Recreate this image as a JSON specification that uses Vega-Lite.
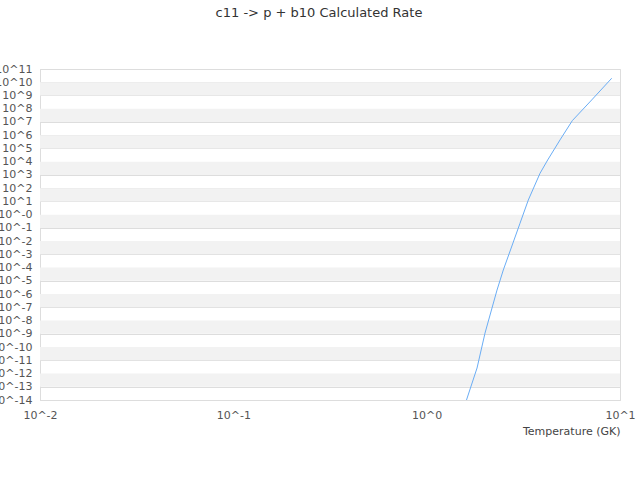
{
  "$schema": "https://vega.github.io/schema/vega-lite/v6.json",
  "autosize": "none",
  "padding": {"left": 40, "top": 69, "right": 20, "bottom": 80},
  "width": 580,
  "height": 331,
  "title": {
    "text": "c11 -> p + b10 Calculated Rate",
    "font": "DejaVu Sans",
    "fontSize": 13,
    "fontWeight": "normal",
    "color": "#333333",
    "anchor": "middle",
    "dx": -11,
    "offset": 43
  },
  "datasets": {
    "bands": [
      {"lo": 1e-13, "hi": 1e-12},
      {"lo": 1e-11, "hi": 1e-10},
      {"lo": 1e-9, "hi": 1e-8},
      {"lo": 1e-7, "hi": 1e-6},
      {"lo": 1e-5, "hi": 1e-4},
      {"lo": 1e-3, "hi": 1e-2},
      {"lo": 1e-1, "hi": 1},
      {"lo": 1e1, "hi": 1e2},
      {"lo": 1e3, "hi": 1e4},
      {"lo": 1e5, "hi": 1e6},
      {"lo": 1e7, "hi": 1e8},
      {"lo": 1e9, "hi": 1e10}
    ],
    "rate": [
      {"T": 1.487, "rate": 3.1e-16},
      {"T": 1.607, "rate": 1.0e-14},
      {"T": 1.822, "rate": 2.6e-12},
      {"T": 2.004, "rate": 1.15e-9},
      {"T": 2.311, "rate": 2.0e-6},
      {"T": 2.491, "rate": 6.6e-5},
      {"T": 3.039, "rate": 0.221},
      {"T": 3.356, "rate": 12.8},
      {"T": 3.857, "rate": 1318},
      {"T": 4.227, "rate": 1.35e4},
      {"T": 4.895, "rate": 4.4e5},
      {"T": 5.667, "rate": 1.26e7},
      {"T": 7.14, "rate": 4.6e8},
      {"T": 9.06, "rate": 2.0e10}
    ]
  },
  "layer": [
    {
      "data": {"name": "bands"},
      "mark": {"type": "rect", "color": "#f2f2f2"},
      "encoding": {
        "y": {"field": "lo", "type": "quantitative", "scale": {"type": "log", "domain": [1e-14, 1e11], "nice": false}},
        "y2": {"field": "hi"}
      }
    },
    {
      "data": {"name": "rate"},
      "mark": {"type": "line", "color": "#6aadf5", "strokeWidth": 1, "clip": true, "interpolate": "linear"},
      "encoding": {
        "x": {
          "field": "T",
          "type": "quantitative",
          "scale": {"type": "log", "domain": [0.01, 10], "nice": false},
          "axis": {
            "title": "Temperature (GK)",
            "titleAnchor": "end",
            "titleAlign": "right",
            "titlePadding": 5,
            "values": [0.01, 0.1, 1, 10],
            "labelExpr": "'10^' + round(log(datum.value) / LN10)",
            "grid": false,
            "labelFlush": false,
            "labelPadding": 9
          }
        },
        "y": {
          "field": "rate",
          "type": "quantitative",
          "scale": {"type": "log", "domain": [1e-14, 1e11], "nice": false},
          "axis": {
            "title": null,
            "values": [1e-14, 1e-13, 1e-12, 1e-11, 1e-10, 1e-9, 1e-8, 1e-7, 1e-6, 1e-5, 1e-4, 1e-3, 1e-2, 1e-1, 1, 1e1, 1e2, 1e3, 1e4, 1e5, 1e6, 1e7, 1e8, 1e9, 1e10, 1e11],
            "labelExpr": "datum.value == 1 ? '10^-0' : '10^' + round(log(datum.value) / LN10)",
            "grid": true,
            "labelPadding": 8,
            "labelOverlap": false,
            "labelFlush": false
          }
        }
      }
    }
  ],
  "config": {
    "view": {"stroke": "#dddddd"},
    "axis": {
      "zindex": 1,
      "ticks": false,
      "domainColor": "#dddddd",
      "gridColor": "#dddddd",
      "labelFont": "DejaVu Sans",
      "labelFontSize": 11,
      "labelColor": "#555555",
      "titleFont": "DejaVu Sans",
      "titleFontSize": 11,
      "titleFontWeight": "normal",
      "titleColor": "#444444"
    }
  }
}
